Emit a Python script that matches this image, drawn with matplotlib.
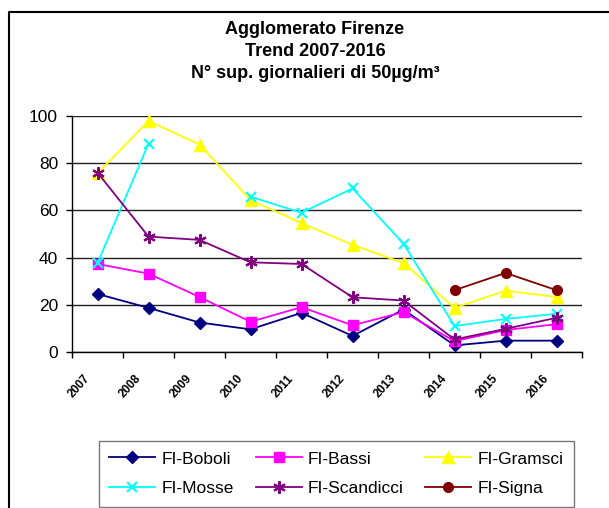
import numpy as np
import matplotlib
matplotlib.use('Agg')
import matplotlib.pyplot as plt
from matplotlib.lines import Line2D
from matplotlib.transforms import ScaledTranslation

plt.rcParams['font.family'] = ['Liberation Sans', 'DejaVu Sans']

# Data (NaN = missing year)
years = ['2007', '2008', '2009', '2010', '2011', '2012', '2013', '2014', '2015', '2016']
nan = np.nan
boboli = [24.6, 18.7, 12.5, 9.6, 16.6, 6.8, 18.0, 2.8, 4.8, 4.8]
bassi = [37.3, 33.2, 23.3, 12.8, 19.0, 11.3, 16.9, 4.6, 9.3, 11.8]
gramsci = [75.7, 97.9, 87.9, 64.4, 54.6, 45.4, 37.7, 18.7, 26.0, 23.3]
mosse = [37.7, 88.3, nan, 65.8, 59.0, 69.3, 45.9, 11.0, 14.0, 16.2]
scandicci = [76.0, 48.9, 47.5, 38.0, 37.3, 23.2, 21.8, 5.3, 9.8, 14.5]
signa = [nan, nan, nan, nan, nan, nan, nan, 26.2, 33.5, 26.2]

series = [
    ('FI-Boboli', boboli, '#000080', 'D', 6.5),
    ('FI-Bassi', bassi, '#FF00FF', 's', 7.5),
    ('FI-Gramsci', gramsci, '#FFFF00', '^', 9),
    ('FI-Mosse', mosse, '#00FFFF', 'x', 7.5),
    ('FI-Scandicci', scandicci, '#800080', (6, 2, 0), 9),
    ('FI-Signa', signa, '#800000', 'o', 7),
]

W, H = 609, 508
fig = plt.figure(figsize=(W / 100, H / 100), dpi=100)

# plot area in pixel coordinates
x0, x1, ytop, ybot = 72, 582, 116, 352
ax = fig.add_axes([x0 / W, 1 - ybot / H, (x1 - x0) / W, (ybot - ytop) / H])

x = np.arange(len(years))
handles = {}
for name, vals, col, mk, ms in series:
    mew = 1.5 if mk in ('x', (6, 2, 0)) else 1
    ln, = ax.plot(x, vals, color=col, lw=1.3, marker=mk, markersize=ms,
                  markeredgewidth=mew, markerfacecolor=col, markeredgecolor=col,
                  label=name, clip_on=False, zorder=3)
    handles[name] = ln

ax.set_xlim(-0.5, len(years) - 0.5)
ax.set_ylim(0, 100)
ax.set_yticks([0, 20, 40, 60, 80, 100])
ax.yaxis.grid(True, color='#202020', lw=1.0)
ax.set_axisbelow(True)

ax.set_xticks(np.arange(-0.5, len(years), 1.0))
ax.set_xticklabels([])
ax.set_xticks(x, minor=True)
ax.set_xticklabels(years, minor=True, rotation=48, ha='right', va='top',
                   fontsize=8.5, fontweight='bold')
ax.tick_params(axis='x', which='minor', length=0, pad=15)
ax.tick_params(axis='x', which='major', length=4, direction='out', width=1)
ax.tick_params(axis='y', length=4, direction='out', width=1, labelsize=12.5, pad=6)
# shift x labels slightly left of the category centre
for lab in ax.xaxis.get_minorticklabels():
    lab.set_transform(lab.get_transform() + ScaledTranslation(-5 / 100, 0, fig.dpi_scale_trans))

for s in ('top', 'right'):
    ax.spines[s].set_visible(False)
for s in ('left', 'bottom'):
    ax.spines[s].set_color('black')
    ax.spines[s].set_linewidth(1.0)

# title
for txt, ypx in [('Agglomerato Firenze', 29), ('Trend 2007-2016', 51),
                 ('N° sup. giornalieri di 50µg/m³', 73)]:
    fig.text(315 / W, 1 - ypx / H, txt, ha='center', va='center',
             fontsize=13, fontweight='bold')

# legend, filled column by column -> order so rows read like the original
order = ['FI-Boboli', 'FI-Mosse', 'FI-Bassi', 'FI-Scandicci', 'FI-Gramsci', 'FI-Signa']
leg = fig.legend(handles=[handles[k] for k in order], loc='upper left', ncol=3,
                 bbox_to_anchor=(99 / W, 1 - 441 / H), bbox_transform=fig.transFigure,
                 fontsize=12.5, frameon=True, fancybox=False, handlelength=2.65,
                 columnspacing=1.25, labelspacing=0.85, borderpad=0.6,
                 handletextpad=0.35, borderaxespad=0)
leg.get_frame().set_edgecolor('#555555')
leg.get_frame().set_linewidth(1.0)

# outer frame (cut off at right and bottom)
fig.add_artist(Line2D([9 / W, 9 / W, 1.0], [0.0, 1 - 12 / H, 1 - 12 / H],
                      transform=fig.transFigure, color='black', lw=1.5))

fig.savefig('out.png', dpi=100)
